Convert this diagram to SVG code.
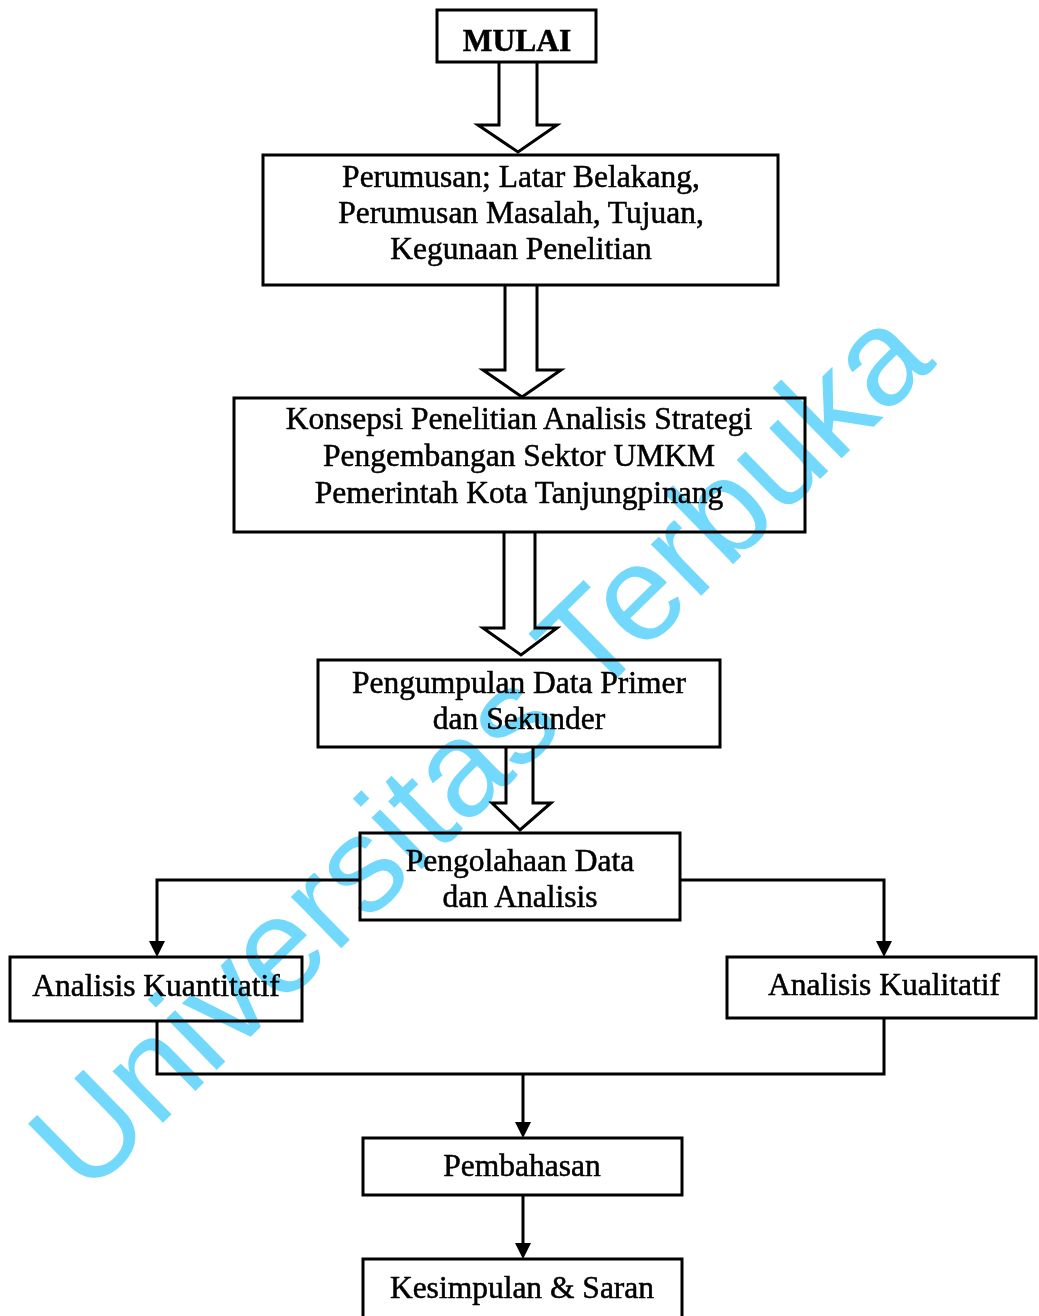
<svg xmlns="http://www.w3.org/2000/svg" width="1039" height="1316" viewBox="0 0 1039 1316">
<style>
.box{fill:#fff;stroke:#000;stroke-width:3}
.blk{fill:#fff;stroke:#000;stroke-width:3;stroke-linejoin:miter}
.ln{fill:none;stroke:#000;stroke-width:3}
.t{font-family:"Liberation Serif","Times New Roman",serif;font-size:31.5px;fill:#000;stroke:#000;stroke-width:0.5;text-anchor:middle}
.b{font-weight:bold}
.wm{font-family:"Liberation Sans",Arial,sans-serif;font-size:136px;fill:#72d9fd;mix-blend-mode:multiply}
</style>
<rect width="1039" height="1316" fill="#fff"/>
<g id="connectors">
<polyline class="blk" points="499,62 499,125 478,125 518,152 557,125 537,125 537,62"/>
<polyline class="blk" points="505,285 505,370 483,370 522,397 561,370 537,370 537,285"/>
<polyline class="blk" points="504,532 504,628 483,628 521,655 557,628 535,628 535,532"/>
<polyline class="blk" points="506,747 506,803 492,803 520,830 551,803 533,803 533,747"/>
<path class="ln" d="M360,880 H157 V941"/>
<path d="M149,941 L165,941 L157,957 Z"/>
<path class="ln" d="M680,880 H884 V941"/>
<path d="M876,941 L892,941 L884,957 Z"/>
<path class="ln" d="M157,1021 V1074 H884 V1018"/>
<path class="ln" d="M523,1074 V1122"/>
<path d="M515,1122 L531,1122 L523,1138 Z"/>
<path class="ln" d="M523,1195 V1243"/>
<path d="M515,1243 L531,1243 L523,1259 Z"/>
</g>
<g id="mulai"><rect class="box" x="437" y="10" width="159" height="52"/><text class="t b" x="517" y="51">MULAI</text></g>
<g id="perumusan"><rect class="box" x="263" y="155" width="515" height="130"/>
<text class="t" x="521" y="187">Perumusan; Latar Belakang,</text>
<text class="t" x="521" y="223">Perumusan Masalah, Tujuan,</text>
<text class="t" x="521" y="259">Kegunaan Penelitian</text></g>
<g id="konsepsi"><rect class="box" x="234" y="398" width="571" height="134"/>
<text class="t" x="519" y="429">Konsepsi Penelitian Analisis Strategi</text>
<text class="t" x="519" y="466">Pengembangan Sektor UMKM</text>
<text class="t" x="519" y="503">Pemerintah Kota Tanjungpinang</text></g>
<g id="pengumpulan"><rect class="box" x="318" y="660" width="402" height="87"/>
<text class="t" x="519" y="693">Pengumpulan Data Primer</text>
<text class="t" x="519" y="729">dan Sekunder</text></g>
<g id="pengolahan"><rect class="box" x="360" y="833" width="320" height="87"/>
<text class="t" x="520" y="871">Pengolahaan Data</text>
<text class="t" x="520" y="907">dan Analisis</text></g>
<g id="kuantitatif"><rect class="box" x="10" y="957" width="292" height="64"/>
<text class="t" x="156" y="996">Analisis Kuantitatif</text></g>
<g id="kualitatif"><rect class="box" x="727" y="957" width="309" height="61"/>
<text class="t" x="884" y="995">Analisis Kualitatif</text></g>
<g id="pembahasan"><rect class="box" x="363" y="1138" width="319" height="57"/>
<text class="t" x="522" y="1176">Pembahasan</text></g>
<g id="kesimpulan"><rect class="box" x="363" y="1259" width="319" height="70"/>
<text class="t" x="522" y="1298">Kesimpulan &amp; Saran</text></g>
<text class="wm" x="0" y="0" transform="translate(86,1198) rotate(-44.4)">Universitas Terbuka</text>
</svg>
